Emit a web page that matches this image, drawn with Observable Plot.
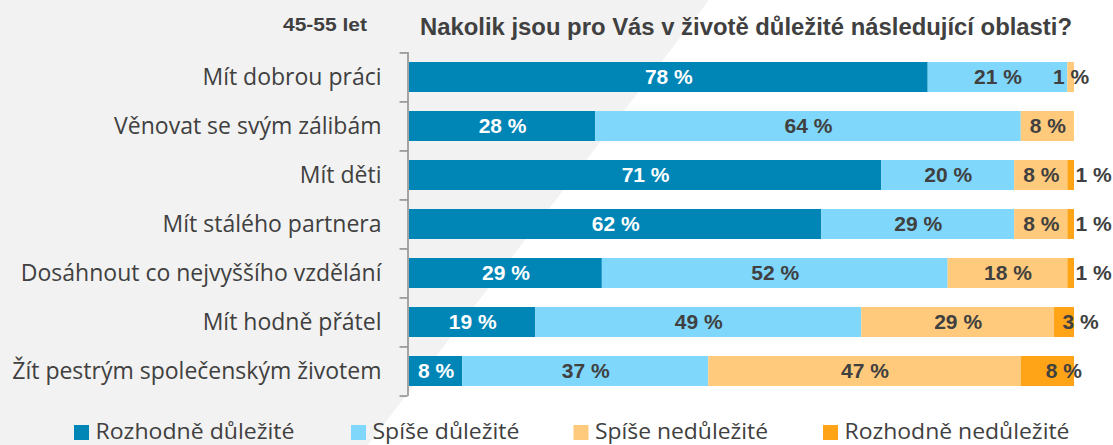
<!DOCTYPE html>
<html>
<head>
<meta charset="utf-8">
<script src="https://cdn.jsdelivr.net/npm/d3@7"></script>
<script src="https://cdn.jsdelivr.net/npm/@observablehq/plot@0.6"></script>
<style>
  body { margin: 0; background: #ffffff; }
  #wrap { position: relative; width: 1113px; height: 445px; overflow: hidden; }
  #bg { position: absolute; left: 0; top: 0; width: 1113px; height: 445px; background: #f2f2f2;
        clip-path: polygon(0 0, 709px 0, 368px 445px, 0 445px); }
  #chart, #overlay { position: absolute; left: 0; top: 0; }
  #overlay { pointer-events: none; }
</style>
</head>
<body>
<div id="wrap">
  <div id="bg"></div>
  <div id="chart"></div>
  <svg id="overlay" width="1113" height="445"></svg>
</div>
<script>
// ---- data ----
const groupLabel = "45-55 let";
const title = "Nakolik jsou pro Vás v životě důležité následující oblasti?";
const categories = [
  "Mít dobrou práci",
  "Věnovat se svým zálibám",
  "Mít děti",
  "Mít stálého partnera",
  "Dosáhnout co nejvyššího vzdělání",
  "Mít hodně přátel",
  "Žít pestrým společenským životem"
];
const seriesNames = ["Rozhodně důležité", "Spíše důležité", "Spíše nedůležité", "Rozhodně nedůležité"];
const seriesColors = ["#0085b7", "#7fd7fc", "#ffca7b", "#ffa416"];
const rozhodneDulezite   = [78, 28, 71, 62, 29, 19, 8];
const spiseDulezite      = [21, 64, 20, 29, 52, 49, 37];
const spiseNedulezite    = [1, 8, 8, 8, 18, 29, 47];
const rozhodneNedulezite = [0, 0, 1, 1, 1, 3, 8];
const seriesValues = [rozhodneDulezite, spiseDulezite, spiseNedulezite, rozhodneNedulezite];

// ---- table built from arrays ----
const table = [];
categories.forEach((cat, i) => {
  seriesValues.forEach((vals, s) => {
    table.push({cat, s, series: seriesNames[s], value: vals[i]});
  });
});

const W = 1113, H = 400;
const mTop = 52, mBottom = 4, mLeft = 409, mRight = 39;
const step = (H - mTop - mBottom) / categories.length;
const textGrey = "#404040";
const axisGrey = "#8a8a8a";
const lbl = d => d.value + " %";
const labelFont = {fontFamily: "'Liberation Sans', Arial, sans-serif", fontSize: 21, fontWeight: "bold"};

const chart = Plot.plot({
  width: W,
  height: H,
  marginTop: mTop,
  marginBottom: mBottom,
  marginLeft: mLeft,
  marginRight: mRight,
  style: {background: "transparent", fontFamily: "'Open Sans', sans-serif", fontSize: "23px", color: textGrey},
  x: {domain: [0, 100], axis: null},
  y: {domain: categories, paddingInner: 0.38, paddingOuter: 0.19, tickSize: 0, tickPadding: 28, label: null},
  color: {domain: seriesNames, range: seriesColors},
  marks: [
    Plot.barX(table, Plot.stackX({x: "value", y: "cat", fill: "series"})),
    // axis line and band-boundary ticks
    Plot.ruleX([0], {stroke: axisGrey, strokeWidth: 1.5, dx: -1.5}),
    Plot.ruleY(categories, {y: d => d, x1: -1.2, x2: 0, dx: -1.5, dy: -step / 2, stroke: axisGrey, strokeWidth: 1.5}),
    Plot.ruleY(categories.slice(-1), {y: d => d, x1: -1.2, x2: 0, dx: -1.5, dy: step / 2, stroke: axisGrey, strokeWidth: 1.5}),
    // labels: first series (white)
    Plot.text(table, Plot.stackX({x: "value", y: "cat",
      text: d => (d.s === 0 && d.value > 0) ? lbl(d) : null, fill: "white", ...labelFont})),
    // labels: middle series (grey, centred)
    Plot.text(table, Plot.stackX({x: "value", y: "cat",
      text: d => ((d.s === 1 || d.s === 2) && d.value > 0) ? lbl(d) : null, fill: textGrey, ...labelFont})),
    // labels: last series, larger values
    Plot.text(table, Plot.stackX({x: "value", y: "cat",
      text: d => (d.s === 3 && d.value >= 3) ? lbl(d) : null, fill: textGrey, dx: 16, ...labelFont})),
    // labels: last series, tiny values placed after the bar end
    Plot.text(table, Plot.stackX2({x: "value", y: "cat",
      text: d => (d.s === 3 && d.value > 0 && d.value < 3) ? lbl(d) : null, fill: textGrey, textAnchor: "start", dx: 1, ...labelFont}))
  ]
});
document.getElementById("chart").appendChild(chart);

// ---- header texts and legend ----
const ov = d3.select("#overlay");
ov.append("text").attr("x", 283).attr("y", 31)
  .attr("font-family", "'Liberation Sans', Arial, sans-serif").attr("font-weight", "bold")
  .attr("font-size", 18).attr("fill", textGrey)
  .attr("textLength", 84).attr("lengthAdjust", "spacingAndGlyphs").text(groupLabel);
ov.append("text").attr("x", 420).attr("y", 35)
  .attr("font-family", "'Liberation Sans', Arial, sans-serif").attr("font-weight", "bold")
  .attr("font-size", 23.5).attr("fill", textGrey)
  .attr("textLength", 652).attr("lengthAdjust", "spacingAndGlyphs").text(title);

const legendSwatchX = [74, 351, 573.5, 823];
const legendTextW = [199, 147, 173, 225];
seriesNames.forEach((name, i) => {
  ov.append("rect").attr("x", legendSwatchX[i]).attr("y", 425).attr("width", 15).attr("height", 15)
    .attr("fill", seriesColors[i]);
  ov.append("text").attr("x", legendSwatchX[i] + 21.5).attr("y", 438.5)
    .attr("font-family", "'Open Sans', sans-serif").attr("font-size", 21).attr("fill", textGrey)
    .attr("textLength", legendTextW[i]).attr("lengthAdjust", "spacingAndGlyphs").text(name);
});
</script>
</body>
</html>
